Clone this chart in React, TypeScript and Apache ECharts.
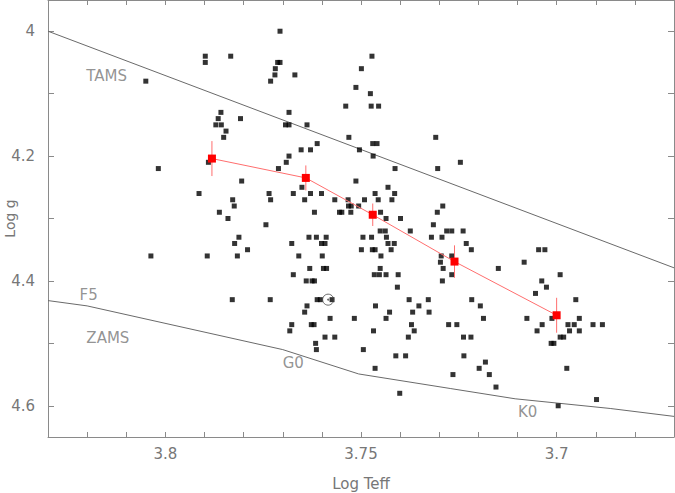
import React, { useEffect, useRef } from "react";
import * as echarts from "echarts";

// Stars: rows of [log g, list of log Teff]
const STAR_ROWS: [number, number[]][] = [
  [4.0, [3.7707]],
  [4.04, [3.7898, 3.7833, 3.7472]],
  [4.05, [3.7898, 3.7713, 3.7707]],
  [4.06, [3.7719, 3.7499]],
  [4.07, [3.772, 3.7669]],
  [4.08, [3.805, 3.7731]],
  [4.09, [3.7513]],
  [4.1, [3.7476]],
  [4.12, [3.7539, 3.7474, 3.7455]],
  [4.13, [3.7858, 3.7684]],
  [4.14, [3.7865, 3.7808]],
  [4.15, [3.7871, 3.7857, 3.7693, 3.7684, 3.7638]],
  [4.16, [3.7845]],
  [4.17, [3.7851, 3.7531, 3.7309]],
  [4.18, [3.7612, 3.747, 3.7459]],
  [4.19, [3.7653, 3.7629, 3.7504]],
  [4.2, [3.7684, 3.7469]],
  [4.21, [3.789, 3.7691, 3.7246]],
  [4.22, [3.8018, 3.7711, 3.7413, 3.7304]],
  [4.24, [3.7805, 3.7513]],
  [4.25, [3.7651, 3.7431]],
  [4.26, [3.7914, 3.7735, 3.7673, 3.7629, 3.7601, 3.7464, 3.7414]],
  [4.27, [3.7828, 3.7731, 3.7644, 3.7567, 3.7533, 3.7491, 3.7456, 3.7421]],
  [4.28, [3.7824, 3.7532, 3.7525, 3.7506, 3.7291]],
  [4.29, [3.7862, 3.7619, 3.7555, 3.7549, 3.7526, 3.745, 3.7305]],
  [4.3, [3.784, 3.7436, 3.7399]],
  [4.31, [3.7743, 3.7315]],
  [4.32, [3.7451, 3.7438, 3.7374, 3.7281, 3.7268, 3.7239]],
  [4.33, [3.7812, 3.7633, 3.7614, 3.7589, 3.7495, 3.7473, 3.7435, 3.732, 3.7293]],
  [4.34, [3.7823, 3.7677, 3.7601, 3.7592, 3.7431, 3.7415, 3.7231]],
  [4.35, [3.779, 3.7499, 3.7471, 3.7464, 3.7423, 3.7218, 3.7046, 3.703]],
  [4.36, [3.8037, 3.7893, 3.7816, 3.7659, 3.7599, 3.7449, 3.7295, 3.7268]],
  [4.37, [3.7297, 3.7083]],
  [4.38, [3.7631, 3.7596, 3.7588, 3.7451, 3.729, 3.7149]],
  [4.39, [3.7673, 3.7466, 3.7453, 3.7436, 3.7405, 3.7268, 3.6991]],
  [4.4, [3.764, 3.7625, 3.7619, 3.7292, 3.7038]],
  [4.41, [3.7407, 3.7026]],
  [4.42, [3.7054]],
  [4.43, [3.7829, 3.7732, 3.7612, 3.7604, 3.7574, 3.7377, 3.7328, 3.7217, 3.6951]],
  [4.44, [3.7638, 3.7463, 3.7352, 3.7195]],
  [4.45, [3.7644, 3.7427, 3.7368, 3.7326]],
  [4.46, [3.7579, 3.7517, 3.7436, 3.7187, 3.7076, 3.7012, 3.6942]],
  [4.47, [3.7677, 3.7627, 3.762, 3.7371, 3.7276, 3.7255, 3.7037, 3.6971, 3.6955, 3.6907, 3.6883]],
  [4.48, [3.7682, 3.7468, 3.7364, 3.705, 3.6967, 3.6942]],
  [4.49, [3.7592, 3.7567, 3.7379, 3.7238, 3.7219, 3.6991, 3.6982]],
  [4.5, [3.7616, 3.7014, 3.7007]],
  [4.51, [3.7614, 3.7494]],
  [4.52, [3.7411, 3.7386, 3.7237]],
  [4.53, [3.7182]],
  [4.54, [3.7464, 3.7198, 3.6974]],
  [4.55, [3.7265, 3.7172]],
  [4.57, [3.7155]],
  [4.58, [3.7401]],
  [4.59, [3.6898]],
  [4.6, [3.6996]],
];

// Binned means with error bars
const MEAN_TEFF = [3.7881, 3.7641, 3.747, 3.7261, 3.7];
const MEAN_LOGG = [4.204, 4.235, 4.294, 4.369, 4.455];
const MEAN_ERR = [0.028, 0.02, 0.018, 0.026, 0.028];

// Sun
const SUN = [3.7584, 4.43];

// Evolutionary lines
const TAMS_TEFF = [3.83, 3.67];
const TAMS_LOGG = [4.0, 4.379];
const ZAMS_TEFF = [3.83, 3.82, 3.77, 3.7506, 3.7272, 3.7106, 3.6863, 3.67];
const ZAMS_LOGG = [4.4315, 4.44, 4.51, 4.549, 4.5723, 4.5888, 4.6043, 4.617];

// Annotations
const ANNO_TEXT = ["TAMS", "F5", "ZAMS", "G0", "K0"];
const ANNO_TEFF = [3.815, 3.8196, 3.8147, 3.7673, 3.7074];
const ANNO_LOGG = [4.0715, 4.4224, 4.4915, 4.5315, 4.6107];

// Axis ticks / labels
const X_TICKS = [3.68, 3.69, 3.7, 3.71, 3.72, 3.73, 3.74, 3.75, 3.76, 3.77, 3.78, 3.79, 3.8, 3.81, 3.82];
const X_LABELS = [3.8, 3.75, 3.7];
const Y_TICKS = [4.0, 4.1, 4.2, 4.3, 4.4, 4.5, 4.6];
const Y_LABELS = [4, 4.2, 4.4, 4.6];

const FONT = "DejaVu Sans";
const AXIS_COLOR = "#8a8a8a";
const TEXT_COLOR = "#777";

export default function App() {
  const ref = useRef<HTMLDivElement>(null);
  useEffect(() => {
    if (!ref.current) return;
    const chart = echarts.init(ref.current, null, { renderer: "svg" });

    const stars: number[][] = [];
    STAR_ROWS.forEach(([g, ts]) => ts.forEach((t) => stars.push([t, g])));

    const fmt = (v: number) => String(parseFloat(Number(v).toFixed(2)));

    const xCommon = {
      type: "value",
      min: 3.67,
      max: 3.83,
      inverse: true,
      splitLine: { show: false },
      axisLine: { show: true, onZero: false, lineStyle: { color: AXIS_COLOR, width: 1 } },
      axisTick: { show: true, inside: true, length: 5, customValues: X_TICKS, lineStyle: { color: AXIS_COLOR } },
    };
    const yCommon = {
      type: "value",
      min: 3.95,
      max: 4.65,
      inverse: true,
      splitLine: { show: false },
      axisLine: { show: true, onZero: false, lineStyle: { color: AXIS_COLOR, width: 1 } },
      axisTick: { show: true, inside: true, length: 6, customValues: Y_TICKS, lineStyle: { color: AXIS_COLOR } },
    };

    const option: any = {
      animation: false,
      backgroundColor: "#ffffff",
      grid: { left: 48, right: 1, top: 0, bottom: 56, containLabel: false, outerBoundsMode: "none" },
      xAxis: [
        {
          ...xCommon,
          position: "bottom",
          name: "Log Teff",
          nameLocation: "middle",
          nameGap: 39,
          nameMoveOverlap: false,
          nameTextStyle: { fontFamily: FONT, fontSize: 15, color: TEXT_COLOR },
          axisLabel: {
            show: true,
            customValues: X_LABELS,
            formatter: fmt,
            margin: 9,
            fontFamily: FONT,
            fontSize: 15,
            color: TEXT_COLOR,
          },
        },
        { ...xCommon, position: "top", axisLabel: { show: false } },
      ],
      yAxis: [
        {
          ...yCommon,
          position: "left",
          name: "Log g",
          nameLocation: "middle",
          nameGap: 31,
          nameMoveOverlap: false,
          nameTextStyle: { fontFamily: FONT, fontSize: 14, color: TEXT_COLOR },
          axisLabel: {
            show: true,
            customValues: Y_LABELS,
            formatter: fmt,
            margin: 13,
            fontFamily: FONT,
            fontSize: 15,
            color: TEXT_COLOR,
          },
        },
        { ...yCommon, position: "right", axisLabel: { show: false } },
      ],
      series: [
        {
          type: "line",
          data: TAMS_TEFF.map((t, i) => [t, TAMS_LOGG[i]]),
          showSymbol: false,
          symbol: "none",
          lineStyle: { color: "#6a6a6a", width: 1 },
          silent: true,
          z: 1,
        },
        {
          type: "line",
          data: ZAMS_TEFF.map((t, i) => [t, ZAMS_LOGG[i]]),
          showSymbol: false,
          symbol: "none",
          lineStyle: { color: "#6a6a6a", width: 1 },
          silent: true,
          z: 1,
        },
        {
          type: "scatter",
          data: ANNO_TEFF.map((t, i) => ({ value: [t, ANNO_LOGG[i]], name: ANNO_TEXT[i] })),
          symbol: "circle",
          symbolSize: 1,
          itemStyle: { color: "rgba(0,0,0,0)" },
          label: {
            show: true,
            position: "inside",
            formatter: (p: any) => p.name,
            fontFamily: FONT,
            fontSize: 15,
            color: TEXT_COLOR,
          },
          silent: true,
          z: 1,
        },
        {
          type: "scatter",
          data: stars,
          symbol: "rect",
          symbolSize: 5,
          itemStyle: { color: "#000000" },
          z: 2,
        },
        {
          type: "custom",
          data: MEAN_TEFF.map((t, i) => [t, MEAN_LOGG[i], MEAN_ERR[i]]),
          encode: { x: 0, y: 1 },
          renderItem: (params: any, api: any) => {
            const x = api.value(0);
            const y = api.value(1);
            const e = api.value(2);
            const p1 = api.coord([x, y - e]);
            const p2 = api.coord([x, y + e]);
            return {
              type: "line",
              shape: { x1: p1[0], y1: p1[1], x2: p2[0], y2: p2[1] },
              style: { stroke: "#ff6e6e", lineWidth: 1 },
            };
          },
          z: 3,
        },
        {
          type: "line",
          data: MEAN_TEFF.map((t, i) => [t, MEAN_LOGG[i]]),
          symbol: "rect",
          symbolSize: 8,
          showSymbol: true,
          itemStyle: { color: "#ff0000" },
          lineStyle: { color: "#ff6e6e", width: 1 },
          z: 4,
        },
        {
          type: "scatter",
          data: [SUN],
          symbol: "circle",
          symbolSize: 11,
          itemStyle: { color: "rgba(255,255,255,0)", borderColor: "#444", borderWidth: 1 },
          z: 5,
        },
        {
          type: "scatter",
          data: [SUN],
          symbol: "circle",
          symbolSize: 2,
          itemStyle: { color: "#444" },
          z: 5,
        },
      ],
    };
    chart.setOption(option);
    return () => chart.dispose();
  }, []);

  return (
    <div
      ref={ref}
      style={{ position: "fixed", left: 0, top: 0, width: 675, height: 493, background: "#fff" }}
    />
  );
}
